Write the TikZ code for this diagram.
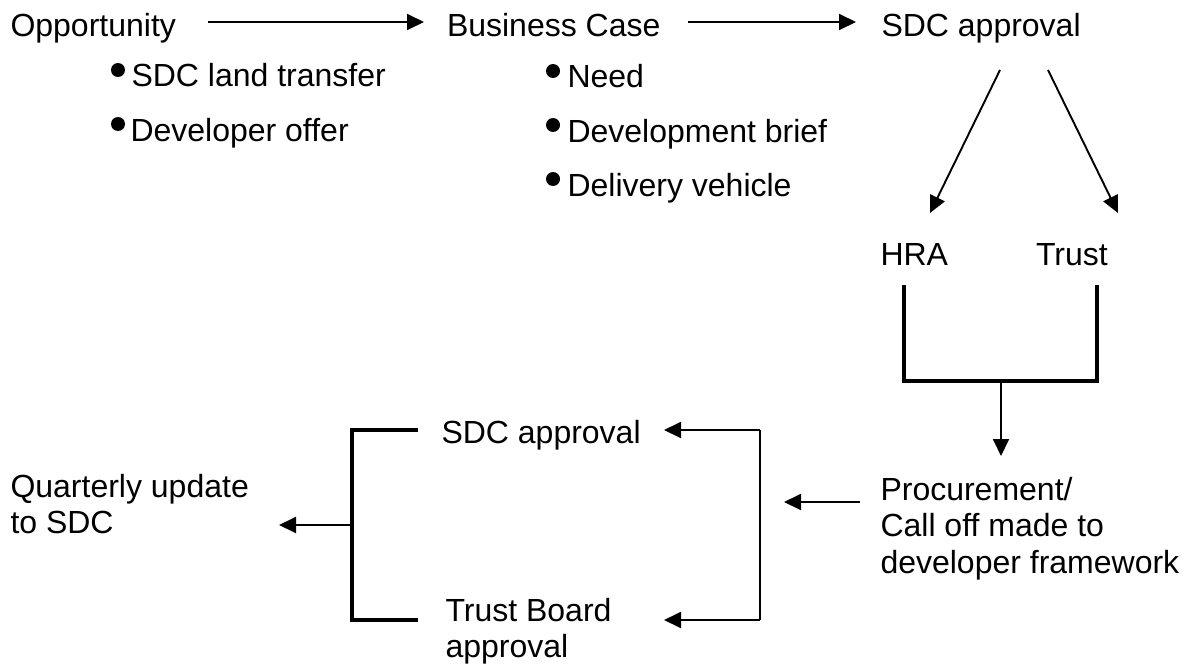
\documentclass[tikz,border=0pt]{standalone}
\usepackage{fontspec}
\setmainfont{Liberation Sans}
\usetikzlibrary{arrows.meta}
\newcommand\mlines[1]{\begin{tabular}[t]{@{}l@{}}#1\end{tabular}}
\begin{document}
\begin{tikzpicture}[x=1pt,y=-1pt,
  lbl/.style={anchor=base west,inner sep=0pt,outer sep=0pt,font=\fontsize{32}{36.8}\selectfont},
  arr/.style={line width=1.9pt,-{Triangle[length=17pt,width=16pt]}},
  thin/.style={line width=1.9pt},
  thick/.style={line width=3.2pt},
  dot/.style={fill=black}]
\useasboundingbox (0,0) rectangle (1192,669);

% top row
\node[lbl] (opp) at (10.5,37) {Opportunity};
\node[lbl] (bc) at (447,37) {Business Case};
\node[lbl] (sdc1) at (881.5,37) {SDC approval};

% opportunity list
\fill[dot] (118,70) circle (7);
\node[lbl] (o1) at (131.5,87) {SDC land transfer};
\fill[dot] (118,124) circle (7);
\node[lbl] (o2) at (130.5,141) {Developer offer};

% business case list
\fill[dot] (553,71) circle (7);
\node[lbl] (b1) at (567.5,88) {Need};
\fill[dot] (553,125) circle (7);
\node[lbl] (b2) at (567.5,142) {Development brief};
\fill[dot] (553,179) circle (7);
\node[lbl] (b3) at (567.5,196) {Delivery vehicle};

% HRA / Trust
\node[lbl] (hra) at (880.5,265) {HRA};
\node[lbl] (trust) at (1036,265) {Trust};

% procurement
\node[lbl] (proc) at (880.5,500) {\mlines{Procurement/\\Call off made to\\developer framework}};

% bottom approvals
\node[lbl] (sdc2) at (441.5,443) {SDC approval};
\node[lbl] (tb) at (445.5,621) {\mlines{Trust Board\\approval}};

% quarterly
\node[lbl] (qu) at (10.5,497) {\mlines{Quarterly update\\to SDC}};

% coordinates
\coordinate (a1s) at (208,22);
\coordinate (a1e) at (424,22);
\coordinate (a2s) at (688,22);
\coordinate (a2e) at (856,22);
\coordinate (s1l) at (1000,70);
\coordinate (s1r) at (1048,70);
\coordinate (hraT) at (930,213);
\coordinate (trT) at (1118,213);
\coordinate (bL) at (904,285);
\coordinate (bLb) at (904,381);
\coordinate (bRb) at (1097,381);
\coordinate (bR) at (1097,285);
\coordinate (bM) at (1001,381);
\coordinate (procT) at (1001,456);
\coordinate (pS) at (860,502);
\coordinate (pE) at (784,502);
\coordinate (rT) at (760,430);
\coordinate (rB) at (760,620);
\coordinate (sdc2R) at (664,430);
\coordinate (tbR) at (664,620);
\coordinate (lT) at (418,430);
\coordinate (lTc) at (352,430);
\coordinate (lBc) at (352,620);
\coordinate (lB) at (418,620);
\coordinate (lM) at (352,525);
\coordinate (quR) at (279,525);

% connectors
\draw[arr] (a1s) -- (a1e);
\draw[arr] (a2s) -- (a2e);
\draw[arr] (s1l) -- (hraT);
\draw[arr] (s1r) -- (trT);
\draw[thick] (bL) -- (bLb) -- (bRb) -- (bR);
\draw[arr] (bM) -- (procT);
\draw[arr] (pS) -- (pE);
\draw[thin] (rB) -- (rT);
\draw[arr] (rT) -- (sdc2R);
\draw[arr] (rB) -- (tbR);
\draw[thick] (lT) -- (lTc) -- (lBc) -- (lB);
\draw[arr] (lM) -- (quR);
\end{tikzpicture}
\end{document}
